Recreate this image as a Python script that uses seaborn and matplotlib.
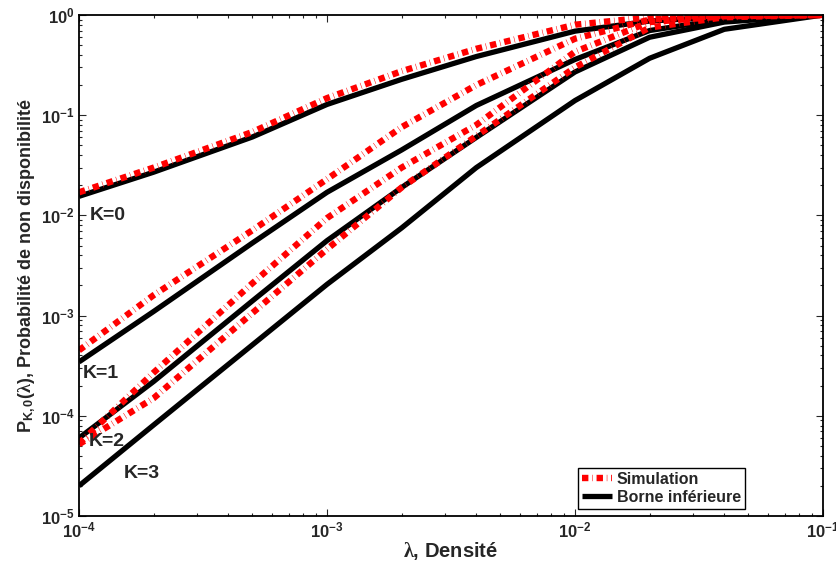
import numpy as np
import pandas as pd
import matplotlib
matplotlib.use("Agg")
import matplotlib.pyplot as plt
from matplotlib.lines import Line2D
from matplotlib.ticker import FixedLocator, FixedFormatter, NullFormatter, LogLocator
import seaborn as sns

# Densité lambda (abscisse commune)
densite = [1e-4, 2e-4, 5e-4, 1e-3, 2e-3, 4e-3, 1e-2, 2e-2, 4e-2, 1e-1]

# Simulation, K = 0..3
sim_k0 = [0.017, 0.030, 0.068, 0.148, 0.275, 0.46, 0.80, 0.95, 0.99, 1.0]
sim_k1 = [4.5e-4, 1.6e-3, 7.1e-3, 0.023, 0.076, 0.20, 0.58, 0.90, 0.98, 1.0]
sim_k2 = [5.3e-5, 2.7e-4, 2.1e-3, 9.4e-3, 0.030, 0.080, 0.43, 0.85, 0.97, 1.0]
sim_k3 = [5.2e-5, 1.5e-4, 1.06e-3, 4.6e-3, 0.019, 0.062, 0.30, 0.75, 0.95, 1.0]

# Borne inférieure, K = 0..3
borne_k0 = [0.0155, 0.027, 0.0606, 0.128, 0.228, 0.385, 0.69, 0.87, 0.96, 1.0]
borne_k1 = [3.45e-4, 1.1e-3, 5.3e-3, 0.017, 0.045, 0.125, 0.36, 0.70, 0.91, 1.0]
borne_k2 = [6.0e-5, 2.2e-4, 1.4e-3, 5.6e-3, 0.019, 0.060, 0.27, 0.60, 0.85, 1.0]
borne_k3 = [2.0e-5, 8.1e-5, 5.1e-4, 2.05e-3, 7.5e-3, 0.030, 0.14, 0.37, 0.72, 1.0]

k_labels = ["K=0", "K=1", "K=2", "K=3"]
k_label_pos = [(1.10e-4, 9.9e-3), (1.04e-4, 2.67e-4), (1.09e-4, 5.5e-5), (1.52e-4, 2.63e-5)]

legend_labels = ["Simulation", "Borne inférieure"]

x_ticks = [1e-4, 1e-3, 1e-2, 1e-1]
x_tick_labels = [r"$\mathbf{10^{-4}}$", r"$\mathbf{10^{-3}}$", r"$\mathbf{10^{-2}}$", r"$\mathbf{10^{-1}}$"]
y_ticks = [1e-5, 1e-4, 1e-3, 1e-2, 1e-1, 1e0]
y_tick_labels = [r"$\mathbf{10^{-5}}$", r"$\mathbf{10^{-4}}$", r"$\mathbf{10^{-3}}$",
                 r"$\mathbf{10^{-2}}$", r"$\mathbf{10^{-1}}$", r"$\mathbf{10^{0}}$"]

sns.set_style("ticks")
plt.rcParams["font.family"] = ["Liberation Sans", "DejaVu Sans"]
plt.rcParams["font.weight"] = "bold"
plt.rcParams["mathtext.fontset"] = "custom"
plt.rcParams["mathtext.rm"] = "Liberation Serif"
plt.rcParams["mathtext.it"] = "Liberation Serif:italic"
plt.rcParams["mathtext.bf"] = "Liberation Sans:bold"
plt.rcParams["mathtext.sf"] = "Liberation Sans"

fig = plt.figure(figsize=(8.37, 5.61), dpi=100)
ax = fig.add_axes([79 / 837, 1 - 516 / 561, 744 / 837, 501 / 561])
ax.set_xscale("log")
ax.set_yscale("log")

sim_style = dict(color="red", linewidth=4.6, linestyle=(0, (1.0, 0.6, 0.08, 0.6)),
                 solid_capstyle="butt", dash_capstyle="butt")
borne_style = dict(color="black", linewidth=3.8, solid_capstyle="butt")

for series in [borne_k0, borne_k1, borne_k2, borne_k3]:
    sns.lineplot(x=densite, y=series, ax=ax, sort=False, estimator=None, **borne_style)
for series in [sim_k0, sim_k1, sim_k2, sim_k3]:
    sns.lineplot(x=densite, y=series, ax=ax, sort=False, estimator=None, **sim_style)

for lab, (tx, ty) in zip(k_labels, k_label_pos):
    ax.text(tx, ty, lab, fontsize=14, fontweight="bold", ha="left", va="center")

ax.set_xlim(1e-4, 1e-1)
ax.set_ylim(1e-5, 1e0)

ax.xaxis.set_major_locator(FixedLocator(x_ticks))
ax.xaxis.set_major_formatter(FixedFormatter(x_tick_labels))
ax.yaxis.set_major_locator(FixedLocator(y_ticks))
ax.yaxis.set_major_formatter(FixedFormatter(y_tick_labels))
ax.xaxis.set_minor_locator(LogLocator(base=10, subs=np.arange(2, 10), numticks=20))
ax.yaxis.set_minor_locator(LogLocator(base=10, subs=np.arange(2, 10), numticks=20))
ax.xaxis.set_minor_formatter(NullFormatter())
ax.yaxis.set_minor_formatter(NullFormatter())

ax.tick_params(which="both", direction="in", top=True, right=True, width=0.8, labelsize=12)
ax.tick_params(which="major", length=5)
ax.tick_params(which="minor", length=2.5)
ax.tick_params(axis="x", pad=3)
ax.tick_params(axis="y", pad=3)
for sp in ax.spines.values():
    sp.set_linewidth(1.3)
    sp.set_color("black")

ax.set_xlabel(r"$\mathrm{\lambda}$, Densité", fontsize=14.5, fontweight="bold", labelpad=0)
ax.set_ylabel(r"P$_{\mathbf{K,0}}$($\mathrm{\lambda}$), Probabilité de non disponibilité",
              fontsize=13, fontweight="bold", labelpad=2)

handles = [Line2D([], [], **sim_style), Line2D([], [], **borne_style)]
leg = ax.legend(handles, legend_labels, loc="lower right", bbox_to_anchor=(0.895, 0.014),
                fancybox=False, framealpha=1, edgecolor="black", fontsize=11.5,
                handlelength=1.9, handletextpad=0.3, borderpad=0.25, labelspacing=0.2,
                borderaxespad=0)
leg.get_frame().set_linewidth(1.0)
for t in leg.get_texts():
    t.set_fontweight("bold")

fig.savefig("out.png", dpi=100)
